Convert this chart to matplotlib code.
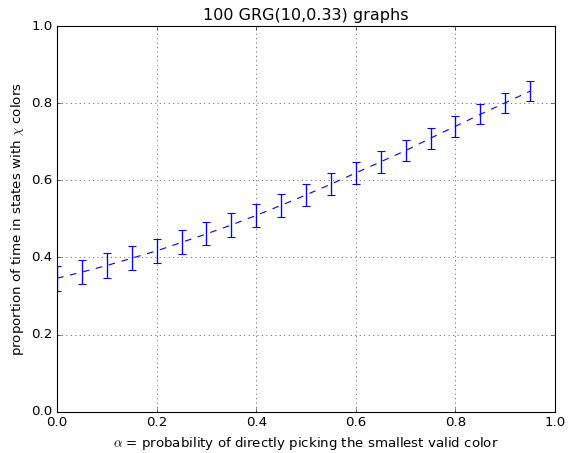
import numpy as np
import matplotlib
matplotlib.use("Agg")
import matplotlib.pyplot as plt

# mixing probability alpha and the measured proportion (mean, half error bar)
alphas = [0.0, 0.05, 0.10, 0.15, 0.20, 0.25, 0.30, 0.35, 0.40, 0.45,
          0.50, 0.55, 0.60, 0.65, 0.70, 0.75, 0.80, 0.85, 0.90, 0.95]
proportion = [0.346, 0.362, 0.379, 0.398, 0.417, 0.439, 0.461, 0.484, 0.509, 0.535,
              0.562, 0.590, 0.619, 0.648, 0.677, 0.709, 0.740, 0.771, 0.801, 0.831]
error = [0.032, 0.031, 0.032, 0.031, 0.031, 0.031, 0.030, 0.030, 0.030, 0.029,
         0.029, 0.029, 0.029, 0.029, 0.028, 0.027, 0.027, 0.026, 0.026, 0.026]

def main():
    plt.style.use("classic")
    fig = plt.figure(figsize=(578 / 80.0, 453 / 80.0), dpi=80, facecolor="white")
    ax = fig.add_axes([57 / 578.0, 1 - 411.7 / 453.0,
                       (555 - 57) / 578.0, (411.7 - 26) / 453.0])

    ax.errorbar(alphas, proportion, yerr=error, fmt="b--", ecolor="#0000ff",
                elinewidth=1.2, capthick=1.0, capsize=3.5)
    ax.set_xlim(0, 1)
    ax.set_ylim(0, 1)
    ax.set_title("100 GRG(10,0.33) graphs")
    ax.set_xlabel(r"$\alpha$ = probability of directly picking the smallest valid color")
    ax.set_ylabel(r"proportion of time in states with $\chi$ colors")
    ax.grid()

    fig.savefig("out.png", dpi=80, facecolor="white")

if __name__ == '__main__':
    main()
